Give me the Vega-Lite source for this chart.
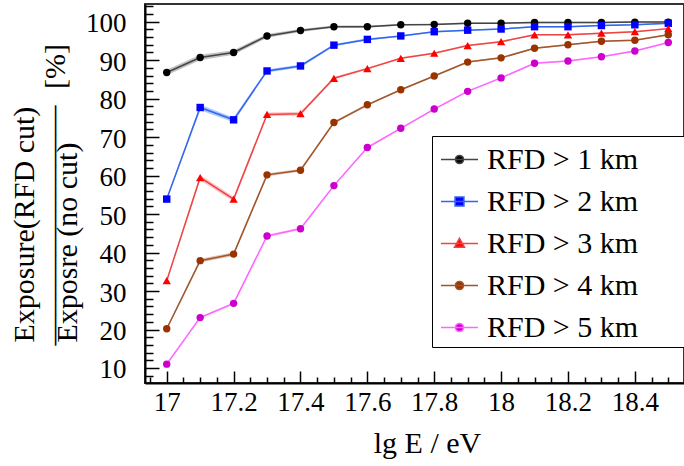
{
  "$schema": "https://vega.github.io/schema/vega-lite/v6.json",
  "width": 539,
  "height": 379,
  "autosize": {"type": "none"},
  "padding": {"left": 145, "top": 4, "right": 0, "bottom": 83},
  "background": "white",
  "config": {
    "font": "Liberation Serif",
    "view": {"stroke": "#333333", "strokeWidth": 2},
    "axis": {"grid": false, "labelColor": "black", "titleColor": "black", "tickColor": "black", "domainColor": "black", "domainWidth": 2, "tickWidth": 1.5, "labelFont": "Liberation Serif", "titleFont": "Liberation Serif", "titleFontWeight": "normal"},
    "legend": {"labelFont": "Liberation Serif", "titleFont": "Liberation Serif"}
  },
  "data": {"values": [
    {"s": "RFD > 1 km", "e": 17.0, "v": 86.8, "err": 0.7},
    {"s": "RFD > 1 km", "e": 17.1, "v": 90.7, "err": 0.7},
    {"s": "RFD > 1 km", "e": 17.2, "v": 92.0, "err": 0.6},
    {"s": "RFD > 1 km", "e": 17.3, "v": 96.3, "err": 0.5},
    {"s": "RFD > 1 km", "e": 17.4, "v": 97.7, "err": 0.4},
    {"s": "RFD > 1 km", "e": 17.5, "v": 98.7, "err": 0.3},
    {"s": "RFD > 1 km", "e": 17.6, "v": 98.7, "err": 0.3},
    {"s": "RFD > 1 km", "e": 17.7, "v": 99.2, "err": 0.2},
    {"s": "RFD > 1 km", "e": 17.8, "v": 99.3, "err": 0.2},
    {"s": "RFD > 1 km", "e": 17.9, "v": 99.6, "err": 0.2},
    {"s": "RFD > 1 km", "e": 18.0, "v": 99.6, "err": 0.2},
    {"s": "RFD > 1 km", "e": 18.1, "v": 99.8, "err": 0.2},
    {"s": "RFD > 1 km", "e": 18.2, "v": 99.8, "err": 0.2},
    {"s": "RFD > 1 km", "e": 18.3, "v": 99.8, "err": 0.2},
    {"s": "RFD > 1 km", "e": 18.4, "v": 99.9, "err": 0.2},
    {"s": "RFD > 1 km", "e": 18.5, "v": 99.9, "err": 0.2},
    {"s": "RFD > 2 km", "e": 17.0, "v": 53.9, "err": 0.3},
    {"s": "RFD > 2 km", "e": 17.1, "v": 77.7, "err": 0.7},
    {"s": "RFD > 2 km", "e": 17.2, "v": 74.5, "err": 0.6},
    {"s": "RFD > 2 km", "e": 17.3, "v": 87.2, "err": 0.4},
    {"s": "RFD > 2 km", "e": 17.4, "v": 88.5, "err": 0.4},
    {"s": "RFD > 2 km", "e": 17.5, "v": 93.9, "err": 0.3},
    {"s": "RFD > 2 km", "e": 17.6, "v": 95.4, "err": 0.3},
    {"s": "RFD > 2 km", "e": 17.7, "v": 96.3, "err": 0.2},
    {"s": "RFD > 2 km", "e": 17.8, "v": 97.4, "err": 0.2},
    {"s": "RFD > 2 km", "e": 17.9, "v": 97.8, "err": 0.2},
    {"s": "RFD > 2 km", "e": 18.0, "v": 98.1, "err": 0.2},
    {"s": "RFD > 2 km", "e": 18.1, "v": 98.7, "err": 0.2},
    {"s": "RFD > 2 km", "e": 18.2, "v": 98.7, "err": 0.2},
    {"s": "RFD > 2 km", "e": 18.3, "v": 99.0, "err": 0.2},
    {"s": "RFD > 2 km", "e": 18.4, "v": 99.2, "err": 0.2},
    {"s": "RFD > 2 km", "e": 18.5, "v": 99.6, "err": 0.2},
    {"s": "RFD > 3 km", "e": 17.0, "v": 32.7, "err": 0.3},
    {"s": "RFD > 3 km", "e": 17.1, "v": 59.5, "err": 0.7},
    {"s": "RFD > 3 km", "e": 17.2, "v": 53.9, "err": 0.6},
    {"s": "RFD > 3 km", "e": 17.3, "v": 75.9, "err": 0.5},
    {"s": "RFD > 3 km", "e": 17.4, "v": 76.1, "err": 0.5},
    {"s": "RFD > 3 km", "e": 17.5, "v": 85.3, "err": 0.3},
    {"s": "RFD > 3 km", "e": 17.6, "v": 87.8, "err": 0.3},
    {"s": "RFD > 3 km", "e": 17.7, "v": 90.5, "err": 0.2},
    {"s": "RFD > 3 km", "e": 17.8, "v": 91.8, "err": 0.2},
    {"s": "RFD > 3 km", "e": 17.9, "v": 93.8, "err": 0.2},
    {"s": "RFD > 3 km", "e": 18.0, "v": 94.8, "err": 0.2},
    {"s": "RFD > 3 km", "e": 18.1, "v": 96.6, "err": 0.2},
    {"s": "RFD > 3 km", "e": 18.2, "v": 96.6, "err": 0.2},
    {"s": "RFD > 3 km", "e": 18.3, "v": 97.0, "err": 0.2},
    {"s": "RFD > 3 km", "e": 18.4, "v": 97.4, "err": 0.2},
    {"s": "RFD > 3 km", "e": 18.5, "v": 98.2, "err": 0.2},
    {"s": "RFD > 4 km", "e": 17.0, "v": 20.2, "err": 0.3},
    {"s": "RFD > 4 km", "e": 17.1, "v": 37.9, "err": 0.5},
    {"s": "RFD > 4 km", "e": 17.2, "v": 39.6, "err": 0.5},
    {"s": "RFD > 4 km", "e": 17.3, "v": 60.2, "err": 0.4},
    {"s": "RFD > 4 km", "e": 17.4, "v": 61.4, "err": 0.3},
    {"s": "RFD > 4 km", "e": 17.5, "v": 73.8, "err": 0.3},
    {"s": "RFD > 4 km", "e": 17.6, "v": 78.4, "err": 0.3},
    {"s": "RFD > 4 km", "e": 17.7, "v": 82.3, "err": 0.2},
    {"s": "RFD > 4 km", "e": 17.8, "v": 85.9, "err": 0.2},
    {"s": "RFD > 4 km", "e": 17.9, "v": 89.5, "err": 0.2},
    {"s": "RFD > 4 km", "e": 18.0, "v": 90.6, "err": 0.2},
    {"s": "RFD > 4 km", "e": 18.1, "v": 93.1, "err": 0.2},
    {"s": "RFD > 4 km", "e": 18.2, "v": 94.0, "err": 0.2},
    {"s": "RFD > 4 km", "e": 18.3, "v": 94.9, "err": 0.2},
    {"s": "RFD > 4 km", "e": 18.4, "v": 95.2, "err": 0.2},
    {"s": "RFD > 4 km", "e": 18.5, "v": 96.6, "err": 0.2},
    {"s": "RFD > 5 km", "e": 17.0, "v": 11.0, "err": 0.3},
    {"s": "RFD > 5 km", "e": 17.1, "v": 23.1, "err": 0.3},
    {"s": "RFD > 5 km", "e": 17.2, "v": 26.8, "err": 0.3},
    {"s": "RFD > 5 km", "e": 17.3, "v": 44.3, "err": 0.3},
    {"s": "RFD > 5 km", "e": 17.4, "v": 46.2, "err": 0.3},
    {"s": "RFD > 5 km", "e": 17.5, "v": 57.4, "err": 0.3},
    {"s": "RFD > 5 km", "e": 17.6, "v": 67.3, "err": 0.3},
    {"s": "RFD > 5 km", "e": 17.7, "v": 72.3, "err": 0.2},
    {"s": "RFD > 5 km", "e": 17.8, "v": 77.3, "err": 0.2},
    {"s": "RFD > 5 km", "e": 17.9, "v": 81.9, "err": 0.2},
    {"s": "RFD > 5 km", "e": 18.0, "v": 85.4, "err": 0.2},
    {"s": "RFD > 5 km", "e": 18.1, "v": 89.2, "err": 0.2},
    {"s": "RFD > 5 km", "e": 18.2, "v": 89.8, "err": 0.2},
    {"s": "RFD > 5 km", "e": 18.3, "v": 90.9, "err": 0.2},
    {"s": "RFD > 5 km", "e": 18.4, "v": 92.4, "err": 0.2},
    {"s": "RFD > 5 km", "e": 18.5, "v": 94.6, "err": 0.2}
  ]},
  "layer": [
    {
      "mark": {"type": "errorband", "opacity": 0.45},
      "encoding": {
        "x": {"field": "e", "type": "quantitative", "scale": {"domain": [16.935, 18.547], "nice": false, "zero": false}, "axis": null},
        "y": {"field": "v", "type": "quantitative", "scale": {"domain": [6.1, 104.6], "nice": false, "zero": false},
              "axis": {"orient": "left", "values": [], "ticks": false, "labels": false, "domain": false, "title": "[%]", "titleFontSize": 30, "titleFont": "Liberation Serif", "titleAngle": -90, "titleX": -81, "titleY": 62, "titleAlign": "center", "titleBaseline": "alphabetic"}},
        "yError": {"field": "err"},
        "color": {"field": "s", "type": "nominal", "scale": {"range": ["#777777", "#4d88ff", "#ff8080", "#c0805a", "#ff88ff"]}, "legend": null}
      }
    },
    {
      "mark": {"type": "line", "strokeWidth": 1.5},
      "encoding": {
        "x": {"field": "e", "type": "quantitative", "scale": {"domain": [16.935, 18.547], "nice": false, "zero": false},
              "axis": {"orient": "bottom", "values": [17, 17.2, 17.4, 17.6, 17.8, 18, 18.2, 18.4], "format": "~g", "tickSize": -12, "labelPadding": 18, "labelFontSize": 27, "labelFont": "Liberation Serif", "title": "lg E / eV", "titleFont": "Liberation Serif", "titleFontSize": 30, "titleX": 282, "titleY": 69, "titleBaseline": "alphabetic", "titleAlign": "center"}},
        "y": {"field": "v", "type": "quantitative", "scale": {"domain": [6.1, 104.6], "nice": false, "zero": false},
              "axis": {"orient": "left", "values": [10, 20, 30, 40, 50, 60, 70, 80, 90, 100], "tickSize": -14, "labelPadding": 33, "labelOffset": 2, "labelFontSize": 27, "labelFont": "Liberation Serif",
                       "title": ["Exposure(RFD cut)", "Exposre (no cut)"],
                       "titleFont": "Liberation Serif", "titleFontSize": 30, "titleLineHeight": 43, "titleAngle": -90, "titleX": -112, "titleY": 338, "titleAlign": "left", "titleBaseline": "alphabetic"}},
        "stroke": {"field": "s", "type": "nominal", "scale": {"domain": ["RFD > 1 km", "RFD > 2 km", "RFD > 3 km", "RFD > 4 km", "RFD > 5 km"], "range": ["#444444", "#3366ee", "#ee4444", "#a0552a", "#ff66ff"]}}
      }
    },
    {
      "transform": [{"filter": "datum.s == 'RFD > 1 km' || datum.s == 'RFD > 4 km' || datum.s == 'RFD > 5 km'"}],
      "mark": {"type": "point", "shape": "circle", "filled": true, "size": 55, "opacity": 1},
      "encoding": {
        "x": {"field": "e", "type": "quantitative", "scale": {"domain": [16.935, 18.547], "nice": false, "zero": false},
              "axis": {"orient": "bottom", "values": [16.95, 17.05, 17.1, 17.15, 17.25, 17.3, 17.35, 17.45, 17.5, 17.55, 17.65, 17.7, 17.75, 17.85, 17.9, 17.95, 18.05, 18.1, 18.15, 18.25, 18.3, 18.35, 18.45, 18.5], "tickSize": -6, "labels": false, "domain": false, "title": null}},
        "y": {"field": "v", "type": "quantitative", "scale": {"domain": [6.1, 104.6], "nice": false, "zero": false},
              "axis": {"orient": "left", "values": [8, 12, 14, 16, 18, 22, 24, 26, 28, 32, 34, 36, 38, 42, 44, 46, 48, 52, 54, 56, 58, 62, 64, 66, 68, 72, 74, 76, 78, 82, 84, 86, 88, 92, 94, 96, 98, 102, 104], "tickSize": -8, "labels": false, "domain": false,
                       "title": "\u2014\u2014\u2014\u2014\u2014\u2014\u2014\u2014", "titleFont": "Liberation Serif", "titleFontSize": 30, "titleAngle": -90, "titleX": -83, "titleY": 341, "titleAlign": "left", "titleBaseline": "alphabetic"}},
        "fill": {"field": "s", "type": "nominal", "scale": {"domain": ["RFD > 1 km", "RFD > 2 km", "RFD > 3 km", "RFD > 4 km", "RFD > 5 km"], "range": ["#000000", "#0000ff", "#ff0000", "#993300", "#cc00cc"]},
                 "legend": {"title": "xxx", "titleOrient": "right", "titleColor": "rgba(0,0,0,0)", "titleFontSize": 30, "titlePadding": 0,
                   "orient": "none", "legendX": 287, "legendY": 132, "labelFontSize": 30, "labelColor": "black", "labelOffset": 8, "labelLimit": 400, "symbolOffset": 4, "padding": 4, "rowPadding": 7, "symbolSize": 1369, "symbolStrokeWidth": 1.5, "strokeColor": "black", "fillColor": "white"}}
      }
    },
    {
      "transform": [{"filter": "datum.s == 'RFD > 2 km'"}],
      "mark": {"type": "point", "shape": "square", "filled": true, "size": 55, "opacity": 1},
      "encoding": {
        "x": {"field": "e", "type": "quantitative", "scale": {"domain": [16.935, 18.547], "nice": false, "zero": false}, "axis": null},
        "y": {"field": "v", "type": "quantitative", "scale": {"domain": [6.1, 104.6], "nice": false, "zero": false}, "axis": null},
        "fill": {"field": "s", "type": "nominal", "scale": {"domain": ["RFD > 1 km", "RFD > 2 km", "RFD > 3 km", "RFD > 4 km", "RFD > 5 km"]}}
      }
    },
    {
      "transform": [{"filter": "datum.s == 'RFD > 3 km'"}],
      "mark": {"type": "point", "shape": "triangle-up", "filled": true, "size": 70, "opacity": 1},
      "encoding": {
        "x": {"field": "e", "type": "quantitative", "scale": {"domain": [16.935, 18.547], "nice": false, "zero": false}, "axis": null},
        "y": {"field": "v", "type": "quantitative", "scale": {"domain": [6.1, 104.6], "nice": false, "zero": false}, "axis": null},
        "fill": {"field": "s", "type": "nominal", "scale": {"domain": ["RFD > 1 km", "RFD > 2 km", "RFD > 3 km", "RFD > 4 km", "RFD > 5 km"]}}
      }
    },
    {
      "mark": {"type": "point", "filled": true, "size": 0, "opacity": 1},
      "encoding": {
        "x": {"field": "e", "type": "quantitative", "scale": {"domain": [16.935, 18.547], "nice": false, "zero": false}, "axis": null},
        "y": {"field": "v", "type": "quantitative", "scale": {"domain": [6.1, 104.6], "nice": false, "zero": false}, "axis": null},
        "fill": {"field": "s", "type": "nominal", "scale": {"domain": ["RFD > 1 km", "RFD > 2 km", "RFD > 3 km", "RFD > 4 km", "RFD > 5 km"]}},
        "shape": {"field": "s", "type": "nominal", "scale": {"domain": ["RFD > 1 km", "RFD > 2 km", "RFD > 3 km", "RFD > 4 km", "RFD > 5 km"],
                  "range": ["M-1,0H1M0.22,0A0.22,0.22,0,1,1,-0.22,0A0.22,0.22,0,1,1,0.22,0Z", "M-1,0H1M-0.24,-0.24H0.24V0.24H-0.24Z", "M-1,0H1M0,-0.28L0.27,0.2H-0.27Z", "M-1,0H1M0.22,0A0.22,0.22,0,1,1,-0.22,0A0.22,0.22,0,1,1,0.22,0Z", "M-1,0H1M0.22,0A0.22,0.22,0,1,1,-0.22,0A0.22,0.22,0,1,1,0.22,0Z"]}}
      }
    }
  ],
  "resolve": {"axis": {"x": "independent", "y": "independent"}}
}
